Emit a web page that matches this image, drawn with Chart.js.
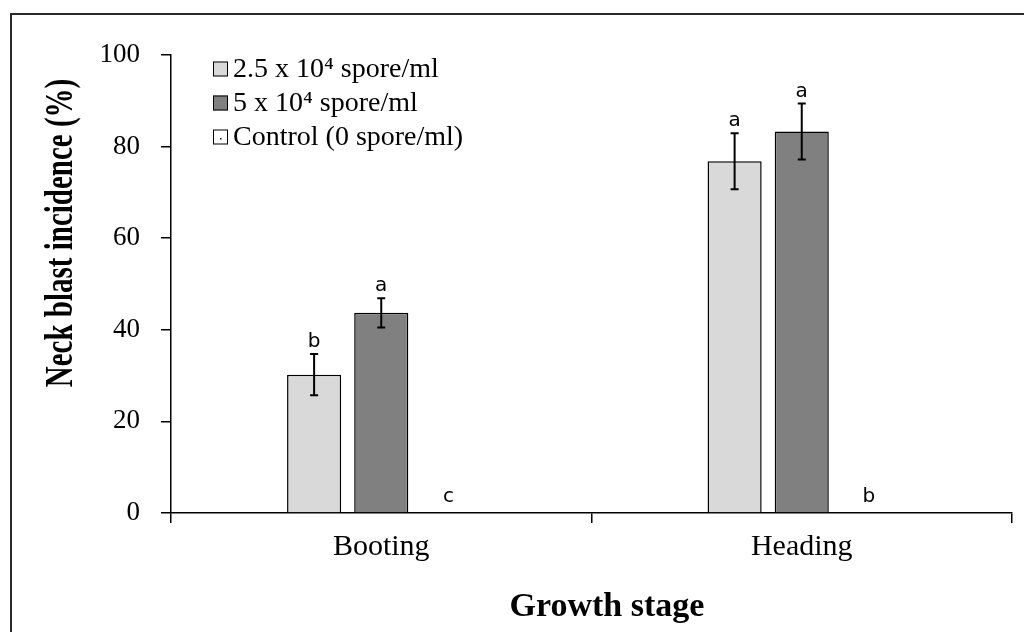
<!DOCTYPE html>
<html><head><meta charset="utf-8">
<script src="https://cdn.jsdelivr.net/npm/chart.js@4"></script>
<style>html,body{margin:0;padding:0;background:#fff;overflow:hidden}#wrap{width:1024px;height:632px;position:relative}</style>
</head><body><div id="wrap"><canvas id="c" width="1024" height="632"></canvas></div>
<script>
const categories = ['Booting', 'Heading'];
const seriesLabels = ['2.5 x 10\u2074 spore/ml', '5 x 10\u2074 spore/ml', 'Control (0 spore/ml)'];
const lowDose = [30.2, 76.8];
const highDose = [43.7, 83.3];
const control = [0, 0];
const lowErr = [4.5, 6.1];
const highErr = [3.2, 6.1];
const controlErr = [0, 0];
const lowLetters = ['b', 'a'];
const highLetters = ['a', 'a'];
const controlLetters = ['c', 'b'];
const yTicks = [0, 20, 40, 60, 80, 100];
const xTitle = 'Growth stage';
const yTitle = 'Neck blast incidence (%)';

const SERIF = '"Liberation Serif", "Times New Roman", serif';
const SANS = '"DejaVu Sans", Verdana, sans-serif';
const errs = [lowErr, highErr, controlErr];
const letters = [lowLetters, highLetters, controlLetters];

const decor = {
  id: 'decor',
  beforeDraw(chart) {
    const ctx = chart.ctx;
    ctx.save();
    ctx.fillStyle = '#fff';
    ctx.fillRect(0, 0, chart.width, chart.height);
    ctx.strokeStyle = '#2b2b2b';
    ctx.lineWidth = 2;
    ctx.strokeRect(11, 14, 1100, 1000);
    ctx.restore();
  },
  afterDatasetsDraw(chart) {
    const ctx = chart.ctx;
    const y = chart.scales.y;
    ctx.save();
    chart.data.datasets.forEach((ds, i) => {
      const meta = chart.getDatasetMeta(i);
      meta.data.forEach((bar, j) => {
        const v = ds.data[j];
        const e = errs[i][j];
        const x = bar.x;
        let topY = y.getPixelForValue(v);
        if (e > 0) {
          const yHi = y.getPixelForValue(v + e);
          const yLo = y.getPixelForValue(v - e);
          ctx.strokeStyle = '#000';
          ctx.lineWidth = 2;
          ctx.beginPath();
          ctx.moveTo(x, yHi); ctx.lineTo(x, yLo);
          ctx.moveTo(x - 4, yHi); ctx.lineTo(x + 4, yHi);
          ctx.moveTo(x - 4, yLo); ctx.lineTo(x + 4, yLo);
          ctx.stroke();
          topY = yHi;
        }
        ctx.fillStyle = '#000';
        ctx.font = '20px ' + SANS;
        ctx.textAlign = 'center';
        ctx.textBaseline = 'alphabetic';
        ctx.fillText(letters[i][j], x, topY - (e > 0 ? 7 : 11));
      });
    });
    ctx.restore();
  },
  afterDraw(chart) {
    const ctx = chart.ctx;
    ctx.save();
    // legend
    ctx.font = '28px ' + SERIF;
    ctx.textBaseline = 'middle';
    ctx.textAlign = 'left';
    chart.data.datasets.forEach((ds, i) => {
      const cy = 69 + i * 34;
      ctx.fillStyle = ds.backgroundColor;
      ctx.fillRect(213, cy - 7.5, 15, 15);
      ctx.strokeStyle = '#000';
      ctx.lineWidth = 1;
      ctx.strokeRect(213.5, cy - 7, 14, 14);
      if (i === 2) { ctx.fillStyle = '#000'; ctx.fillRect(220, cy + 1, 1.5, 1.5); }
      ctx.fillStyle = '#000';
      ctx.fillText(ds.label, 233, cy + 1);
    });
    // axis titles
    ctx.font = 'bold 34px ' + SERIF;
    ctx.textAlign = 'center';
    ctx.textBaseline = 'alphabetic';
    ctx.fillText(xTitle, 607, 616);
    ctx.translate(62, 233);
    ctx.rotate(-Math.PI / 2);
    ctx.scale(1, 1.4);
    ctx.font = 'bold 29px ' + SERIF;
    ctx.textBaseline = 'middle';
    ctx.fillText(yTitle, 0, 0);
    ctx.restore();
  }
};

new Chart(document.getElementById('c'), {
  type: 'bar',
  data: {
    labels: categories,
    datasets: [
      { label: seriesLabels[0], data: lowDose, backgroundColor: '#d9d9d9', borderColor: '#000', borderWidth: 1.5 },
      { label: seriesLabels[1], data: highDose, backgroundColor: '#808080', borderColor: '#000', borderWidth: 1.5 },
      { label: seriesLabels[2], data: control, backgroundColor: '#ffffff', borderColor: '#000', borderWidth: 0 }
    ]
  },
  options: {
    responsive: false,
    animation: false,
    devicePixelRatio: 1,
    layout: { padding: { top: 55, right: 12, left: 0, bottom: 0 } },
    datasets: { bar: { barPercentage: 0.806, categoryPercentage: 0.479 } },
    plugins: { legend: { display: false }, tooltip: { enabled: false } },
    scales: {
      x: {
        grid: { offset: true, drawOnChartArea: false, drawTicks: true, tickLength: 10, color: '#000', lineWidth: 1.5 },
        border: { display: true, color: '#000', width: 1.5 },
        ticks: { color: '#000', font: { family: SERIF, size: 30 }, padding: 6 },
        afterFit(s) { s.height = 119; }
      },
      y: {
        min: 0, max: 100,
        afterBuildTicks(s) { s.ticks = yTicks.map(v => ({ value: v })); },
        grid: { drawOnChartArea: false, drawTicks: true, tickLength: 10, color: '#000', lineWidth: 1.5 },
        border: { display: true, color: '#000', width: 1.5 },
        ticks: { color: '#000', font: { family: SERIF, size: 27 }, padding: 21 },
        afterFit(s) { s.width = 171; }
      }
    }
  },
  plugins: [decor]
});
</script>
</body></html>
